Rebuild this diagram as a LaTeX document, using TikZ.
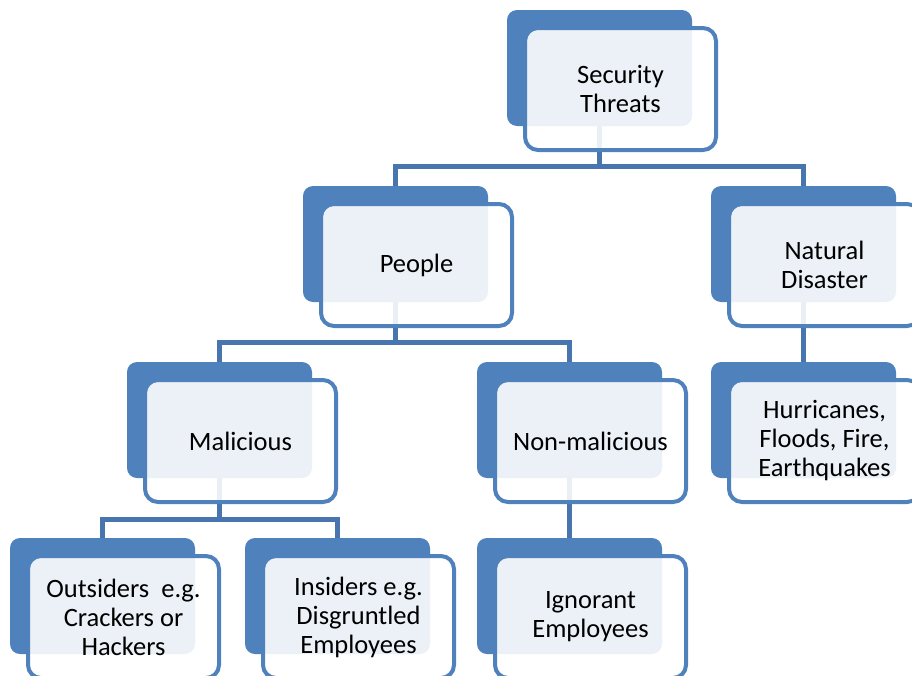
\documentclass[tikz,border=0pt]{standalone}
\usepackage{fontspec}
\setmainfont{Carlito}
\definecolor{accent}{HTML}{4F81BD}
\definecolor{linkblue}{HTML}{4875AD}
\pgfdeclarelayer{links}
\pgfsetlayers{links,main}

\begin{document}
\begin{tikzpicture}[x=1pt,y=-1pt,
  backbox/.style={draw=none, fill=accent, rounded corners=10pt,
    minimum width=185pt, minimum height=116pt, inner sep=0pt},
  frontbox/.style={draw=accent, line width=4pt, fill=white, fill opacity=0.89,
    text opacity=1, rounded corners=13pt, minimum width=191pt,
    minimum height=122pt, inner sep=0pt, align=center,
    font=\fontsize{26.5}{29}\selectfont},
  link/.style={draw=linkblue, line width=5pt}]

\useasboundingbox (0,0) rectangle (912,675);

% level 0
\node[backbox] (secB) at (599.5,68) {};
\node[frontbox] (sec) at ([shift={(21,21)}]secB.center) {Security\\Threats};

% level 1
\node[backbox] (peopleB) at (395.5,244) {};
\node[frontbox] (people) at ([shift={(21,21)}]peopleB.center) {People};
\node[backbox] (natB) at (803.5,244) {};
\node[frontbox] (nat) at ([shift={(21,21)}]natB.center) {Natural\\Disaster};

% level 2
\node[backbox] (malB) at (219.5,420) {};
\node[frontbox] (mal) at ([shift={(21,21)}]malB.center) {Malicious};
\node[backbox] (nonB) at (569.5,420) {};
\node[frontbox] (non) at ([shift={(21,21)}]nonB.center) {Non-malicious};
\node[backbox] (hurB) at (803.5,420) {};
\node[frontbox] (hur) at ([shift={(21,21)}]hurB.center) {Hurricanes,\\Floods, Fire,\\Earthquakes};

% level 3
\node[backbox] (outB) at (102.5,596) {};
\node[frontbox] (out) at ([shift={(21,21)}]outB.center) {Outsiders~ e.g.\\Crackers or\\Hackers};
\node[backbox] (insB) at (337.5,596) {};
\node[frontbox] (ins) at ([shift={(21,21)}]insB.center) {Insiders e.g.\\Disgruntled\\Employees};
\node[backbox] (ignB) at (569.5,596) {};
\node[frontbox] (ign) at ([shift={(21,21)}]ignB.center) {Ignorant\\Employees};

% tree connectors, kept underneath the boxes
\begin{pgfonlayer}{links}
  \draw[link] (secB.south) -- ++(0,40) coordinate (busA) -| (peopleB.north);
  \draw[link] (busA) -| (natB.north);
  \draw[link] (peopleB.south) -- ++(0,40) coordinate (busB) -| (malB.north);
  \draw[link] (busB) -| (nonB.north);
  \draw[link] (natB.south) -- (hurB.north);
  \draw[link] (malB.south) -- ++(0,41) coordinate (busC) -| (outB.north);
  \draw[link] (busC) -| (insB.north);
  \draw[link] (nonB.south) -- (ignB.north);
\end{pgfonlayer}
\end{tikzpicture}
\end{document}
